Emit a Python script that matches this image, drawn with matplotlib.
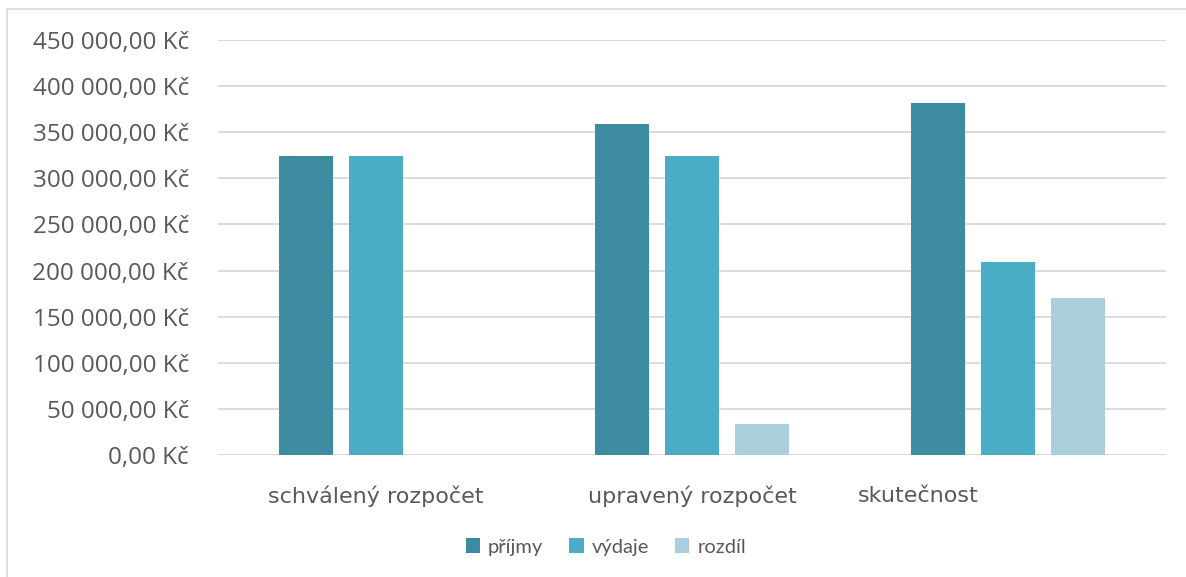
import numpy as np
import matplotlib.pyplot as plt
from matplotlib.ticker import FuncFormatter
from matplotlib.patches import Rectangle
import matplotlib.transforms as mtransforms

categories = ["schválený rozpočet", "upravený rozpočet", "skutečnost"]
series_names = ["příjmy", "výdaje", "rozdíl"]
prijmy = [324000, 359000, 382000]
vydaje = [324000, 324000, 209000]
rozdil = [0, 34000, 170000]
colors = ["#3C8BA0", "#4BACC6", "#A9CFDC"]


def kc_format(v, pos):
    s = f"{v:,.2f}".replace(",", " ").replace(".", ",")
    return s + " Kč"


fig = plt.figure(figsize=(11.86, 5.77), dpi=100)
ax = fig.add_axes([218 / 1186, 1 - 455 / 577, 948 / 1186, 415 / 577])

# outer chart border
fig.patches.append(Rectangle((7 / 1186, -0.01), 1.02, 1 - 9 / 577 + 0.01,
                             transform=fig.transFigure, fill=False,
                             edgecolor="#D9D9D9", linewidth=1.2))

x = np.arange(len(categories))
step = 0.2215
width = 0.174
for i, (name, vals) in enumerate(zip(series_names, [prijmy, vydaje, rozdil])):
    ax.bar(x + (i - 1) * step, vals, width, color=colors[i], label=name, zorder=3)

ax.set_xlim(-0.5, 2.5)
ax.set_ylim(0, 450000)
ax.set_yticks(np.arange(0, 450001, 50000))
ax.yaxis.set_major_formatter(FuncFormatter(kc_format))
ax.grid(axis="y", color="#D9D9D9", linewidth=1.3, zorder=0)
for s in ax.spines.values():
    s.set_visible(False)
ax.tick_params(axis="y", length=0, pad=21, labelsize=17.5, labelcolor="#595959")
for lbl in ax.get_yticklabels():
    lbl.set_fontfamily("Open Sans")

ax.set_xticks(x)
ax.set_xticklabels(categories, fontsize=16, color="#595959")
ax.tick_params(axis="x", length=0, pad=22)
# last category label sits left of its group in the original
last = ax.get_xticklabels()[-1]
last.set_transform(last.get_transform() + mtransforms.ScaledTranslation(-0.9, 0, fig.dpi_scale_trans))

leg = ax.legend(loc="center", bbox_to_anchor=(606 / 1186, 1 - 547 / 577),
                bbox_transform=fig.transFigure, ncol=3, frameon=False,
                handlelength=0.7, handleheight=0.7,
                handletextpad=0.4, columnspacing=1.3,
                prop={"family": "Lato", "size": 14.5})
for t in leg.get_texts():
    t.set_color("#595959")

fig.savefig("out.png", dpi=100)
